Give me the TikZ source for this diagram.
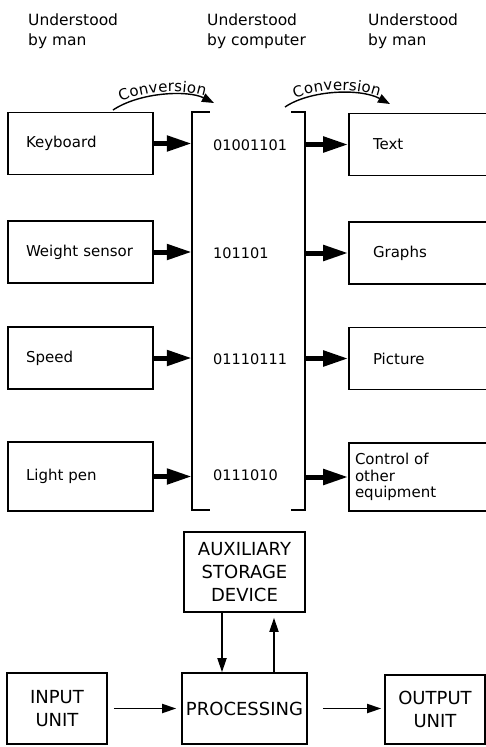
\documentclass[tikz,border=0pt]{standalone}
\usepackage{fontspec}
\setmainfont{DejaVu Sans}
\usetikzlibrary{arrows.meta,decorations.text}

\begin{document}
\begin{tikzpicture}[x=1pt,y=-1pt,
  box/.style={draw,line width=1.6pt,text width=109pt,inner xsep=18pt,inner ysep=0pt,minimum height=62pt,align=left,font=\fontsize{15}{16.5}\selectfont},
  obox/.style={box,text width=110pt,inner xsep=24pt},
  unit/.style={draw,line width=1.6pt,align=center,inner sep=0pt,font=\fontsize{18}{23}\selectfont},
  code/.style={anchor=west,inner sep=0pt,font=\fontsize{14.5}{14.5}\selectfont},
  head/.style={anchor=north west,inner sep=0pt,align=left,font=\fontsize{15.5}{20}\selectfont},
  fat/.style={line width=5pt,-{Triangle[length=25pt,width=15pt]}},
  thin/.style={line width=1.8pt,-{Triangle[length=14pt,width=9pt]}},
  conv/.style={line width=1.4pt,-{Triangle[length=12pt,width=9pt]},postaction={decorate,decoration={text along path,text align=center,raise=3pt,text={|\fontsize{15}{15}\selectfont|Conversion}}}}]
\clip (0,0) rectangle (486,747);
% Data conversion between man and computer
\node[head] (h1) at (28,14) {Understood\\by man};
\node[head] (h2) at (207,14) {Understood\\by computer};
\node[head] (h3) at (368,14) {Understood\\by man};

\node[box] (kbd) at (80.5,143.5) {Keyboard};
\node[box] (wgt) at (80.5,252) {Weight sensor};
\node[box] (spd) at (80.5,358) {Speed};
\node[box,minimum height=69pt] (pen) at (80.5,476.5) {Light pen};

\node[minimum width=113pt,minimum height=398pt,inner sep=0pt] (mem) at (248.5,311) {};
\node[code] (b1) at (213,145) {01001101};
\node[code] (b2) at (213,253) {101101};
\node[code] (b3) at (213,359) {01110111};
\node[code] (b4) at (213,475) {0111010};

\node[obox] (txt) at (428,144.5) {Text};
\node[obox] (grf) at (428,253) {Graphs};
\node[obox] (pic) at (428,358.5) {Picture};
\node[obox,text width=146pt,inner xsep=6pt,minimum height=68pt] (ctl) at (428,477) {Control of\\other\\equipment};

\draw[line width=1.6pt] ([xshift=18pt]mem.north west) -- (mem.north west) -- (mem.south west) -- ++(18,0);
\draw[line width=1.6pt] ([xshift=-14pt]mem.north east) -- (mem.north east) -- (mem.south east) -- ++(-14,0);

\foreach \n in {kbd,wgt,spd,pen} \draw[fat] (\n.east) -- (\n.east -| mem.west);
\foreach \n in {txt,grf,pic,ctl} \draw[fat] (\n.west -| mem.east) -- (\n.west);

\coordinate (c1a) at (113,110);
\coordinate (c1b) at (214,103);
\coordinate (c2a) at (285,107);
\coordinate (c2b) at (390,104);
\draw[conv] (c1a) .. controls (140,92) and (188,90) .. (c1b);
\draw[conv] (c2a) .. controls (310,90) and (360,88) .. (c2b);

% Block diagram of the computer
\node[unit,minimum width=121pt,minimum height=80pt] (aux) at (244.5,572) {AUXILIARY\\STORAGE\\DEVICE};
\node[unit,minimum width=125pt,minimum height=71pt] (proc) at (244.5,708.5) {PROCESSING};
\node[unit,minimum width=100pt,minimum height=71pt] (inp) at (57,708.5) {INPUT\\UNIT};
\node[unit,minimum width=100pt,minimum height=69pt] (outp) at (435,709.5) {OUTPUT\\UNIT};

\draw[thin] ([xshift=-22.5pt]aux.south) -- ([xshift=-22.5pt]aux.south |- proc.north);
\draw[thin,shorten >=5pt] ([xshift=29.5pt]proc.north) -- ([xshift=29.5pt]proc.north |- aux.south);
\draw[thin,shorten <=6pt,shorten >=5pt] (inp.east) -- (proc.west);
\draw[thin,shorten <=15pt,shorten >=3pt] (proc.east) -- (proc.east -| outp.west);
\end{tikzpicture}
\end{document}
